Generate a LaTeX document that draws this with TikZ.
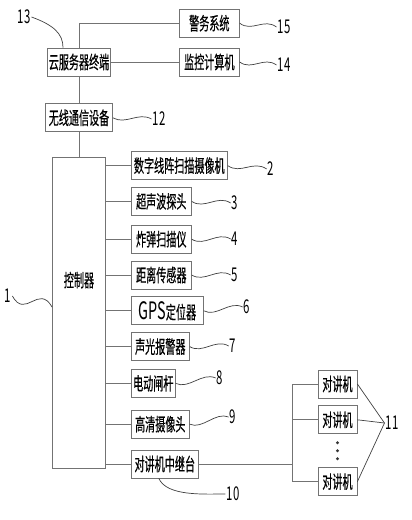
\documentclass[tikz,border=0pt]{standalone}
\usepackage{fontspec}
\newfontfamily\cjk[FakeStretch=0.56, FakeBold=0.4]{Noto Sans CJK SC}
\newfontfamily\numfont[FakeStretch=0.6]{Noto Sans CJK SC}
\usetikzlibrary{positioning,calc}

% sine-like leader from one anchor to another
\newcommand\wavy[3]{\draw[lead] (#1) .. controls ($(#1)!0.33!(#2)+(0,#3)$) and ($(#1)!0.66!(#2)-(0,#3)$) .. (#2);}

\begin{document}
\begin{tikzpicture}[
  x=1pt, y=-1pt,
  font=\cjk\fontsize{18}{18}\selectfont,
  box/.style={draw=black!55, line width=0.8pt, minimum height=28pt, inner xsep=1pt, inner ysep=0pt, fill=white},
  wire/.style={draw=black!55, line width=0.8pt},
  lead/.style={draw=black!75, line width=0.7pt},
  num/.style={inner sep=1pt, font=\numfont\fontsize{19}{19}\selectfont}
]
  \useasboundingbox (0,0) rectangle (412,520);

  % upper chain
  \node[box, minimum width=63pt] (cloud) at (79,62) {云服务器终端};
  \node[box, minimum width=67pt, below=27pt of cloud] (radio) {无线通信设备};
  \node[box, minimum width=53pt, minimum height=311pt, below=25pt of radio,
        label={[yshift=33pt]center:控制器}] (ctrl) {};
  \node[box, minimum width=60pt, right=68pt of cloud] (monitor) {监控计算机};
  \node[box, minimum width=60pt, above=10pt of monitor] (police) {警务系统};

  % devices on the controller
  \node[box, minimum width=96pt, anchor=north west] (scan) at ([xshift=25pt,yshift=6pt]ctrl.north east) {数字线阵扫描摄像机};
  \node[box, minimum width=60pt, below=7pt of scan.south west, anchor=north west] (sonar) {超声波探头};
  \node[box, minimum width=60pt, below=9pt of sonar.south west, anchor=north west] (bomb) {炸弹扫描仪};
  \node[box, minimum width=60pt, below=7pt of bomb.south west, anchor=north west] (range) {距离传感器};
  \node[box, minimum width=72pt, below=7pt of range.south west, anchor=north west] (gps) {{\numfont\fontsize{24}{24}\selectfont GPS}定位器};
  \node[box, minimum width=58pt, below=7pt of gps.south west, anchor=north west] (alarm) {声光报警器};
  \node[box, minimum width=44pt, below=8pt of alarm.south west, anchor=north west] (gate) {电动闸杆};
  \node[box, minimum width=58pt, below=12pt of gate.south west, anchor=north west] (hd) {高清摄像头};
  \node[box, minimum width=67pt, below=11pt of hd.south west, anchor=north west] (relay) {对讲机中继台};

  % intercoms
  \node[box, minimum width=39pt] (ic1) at (337.5,384) {对讲机};
  \node[box, minimum width=39pt, below=7pt of ic1] (ic2) {对讲机};
  \node[box, minimum width=39pt, below=33pt of ic2] (ic3) {对讲机};
  \foreach \d in {-8,0,8}
    \fill[black!80] ($(ic2.south)!0.5!(ic3.north)+(0,\d)$) circle (1.7pt);
  \coordinate (bus) at ([xshift=-25pt]ic1.west);

  % reference numbers
  \node[num] (n13) at (24,17) {13};
  \node[num] (n15) at (284,27) {15};
  \node[num] (n14) at (284,65) {14};
  \node[num] (n12) at (159,119) {12};
  \node[num] (n1) at (8,296) {1};
  \node[num] (n2) at (271,169) {2};
  \node[num] (n3) at (235,203) {3};
  \node[num] (n4) at (235,239) {4};
  \node[num] (n5) at (235,275) {5};
  \node[num] (n6) at (247,307) {6};
  \node[num] (n7) at (233,346) {7};
  \node[num] (n8) at (220,378) {8};
  \node[num] (n9) at (233,417) {9};
  \node[num] (n10) at (233,494) {10};
  \node[num] (n11) at (392,423) {11};

  % connections
  \draw[wire] (cloud.north) |- (police.west);
  \draw[wire] (cloud.east) -- (monitor.west);
  \draw[wire] (cloud.south) -- (radio.north);
  \draw[wire] (radio.south) -- (ctrl.north);
  \foreach \dev in {scan,sonar,bomb,range,gps,alarm,gate,hd,relay}
    \draw[wire] (ctrl.east |- \dev.west) -- (\dev.west);
  \draw[wire] (relay.east) -- (bus |- relay.east);
  \draw[wire] (ic1.west) -| (bus |- ic3.west) -- (ic3.west);
  \draw[wire] (ic2.west) -- (bus |- ic2.west);

  % leaders
  \wavy{police.east}{n15.west}{8}
  \wavy{monitor.east}{n14.west}{8}
  \wavy{radio.east}{n12.west}{7}
  \wavy{scan.east}{n2.west}{8}
  \wavy{sonar.east}{n3.west}{8}
  \wavy{bomb.east}{n4.west}{8}
  \wavy{range.east}{n5.west}{8}
  \wavy{gps.east}{n6.west}{8}
  \wavy{alarm.east}{n7.west}{8}
  \wavy{gate.east}{n8.west}{8}
  \wavy{hd.east}{n9.west}{8}
  \coordinate (c1) at ([yshift=6pt]ctrl.west);
  \wavy{n1.east}{c1}{20}
  \draw[lead] (n13.east) .. controls +(22,8) and +(0,-14) .. ([xshift=-16pt]cloud.north);
  \draw[lead] ([xshift=-6pt]relay.south) .. controls +(8,18) and +(-22,0) .. (n10.west);
  \foreach \ic in {ic1,ic2,ic3}
    \draw[lead] (\ic.east) -- (n11.west);
\end{tikzpicture}
\end{document}
